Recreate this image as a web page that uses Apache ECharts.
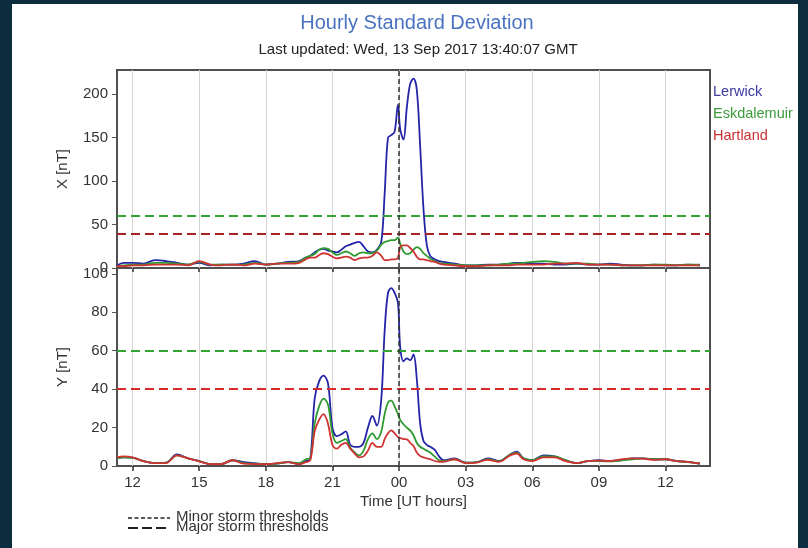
<!DOCTYPE html>
<html>
<head>
<meta charset="utf-8">
<script src="https://cdn.jsdelivr.net/npm/echarts@6/dist/echarts.min.js"></script>
<style>
html,body{margin:0;padding:0;background:#0b2d3e;width:808px;height:548px;overflow:hidden;}
#panel{position:absolute;left:12px;top:4px;width:786px;height:544px;background:#fff;}
#chart{position:absolute;left:0;top:0;width:808px;height:548px;}
</style>
</head>
<body>
<div id="panel"></div>
<div id="chart"></div>
<script>
// time in UT hours from 12 Sep (values >= 24 are 13 Sep)
const times = [11.3,11.6,12.0,12.5,13.0,13.5,14.0,14.5,15.0,15.5,16.0,16.5,17.0,17.5,18.0,18.5,19.0,19.5,19.8,20.0,
  20.2,20.4,20.6,20.8,21.0,21.2,21.4,21.6,21.8,22.0,22.2,22.4,22.6,22.8,23.0,23.2,23.35,23.5,23.65,23.8,
  23.95,24.05,24.2,24.35,24.5,24.65,24.8,24.95,25.1,25.25,25.4,25.6,25.8,26.0,26.5,27.0,27.5,28.0,28.5,29.0,
  29.3,29.6,30.0,30.5,31.0,31.5,32.0,32.5,33.0,33.5,34.0,34.5,35.0,35.5,36.0,36.5,37.0,37.55];

// X component [nT]
const lerwickX = [3,6,6,5,9,8,6,4,6,3,4,4,5,8,4,5,7,8,12,14,
  18,21,22,20,19,18,21,25,27,29,30,25,19,18,21,30,85,150,153,157,
  188,160,148,185,212,218,205,140,68,26,14,10,8,7,5,3,3,4,4,5,
  6,6,5,5,4,4,5,4,4,5,4,3,3,4,3,3,4,3];
const eskdalemuirX = [2,3,4,4,6,6,5,4,7,4,4,4,4,6,4,5,6,7,12,14,
  16,21,23,22,18,15,17,19,17,14,17,18,17,17,20,27,30,31,32,32,
  35,28,19,16,17,21,24,22,17,14,11,8,6,5,4,3,3,3,4,5,
  5,6,7,8,7,5,5,5,4,4,3,3,3,4,4,3,4,4];
const hartlandX = [2,2,3,3,4,4,4,3,8,4,3,4,3,5,4,5,5,6,10,12,
  12,15,17,16,13,11,12,13,12,9,11,12,12,14,18,14,9,9,10,10,
  12,24,26,26,23,19,13,10,10,9,8,7,5,4,3,2,2,3,3,3,
  4,4,4,4,5,5,6,4,4,4,3,3,3,3,3,3,3,3];

// Y component [nT]
const lerwickY = [4,4.5,4.4,2.5,1.5,1.7,6,4,2.6,1,1,3,2,1.5,1,1.2,2,1,2.5,3.5,
  35,44,47,43,20,15.5,16.5,18,11,10,10,12,20,26,21,35,70,90,92.5,90,
  85,62,54.5,56,55,58,45,22,13,11,10,8.5,5,3,4,1.7,2,4,2.6,6,
  7.5,4,3,5.5,5,3,1.5,2.5,3,2.6,3,4,4,3.5,3.5,2.6,2.2,1.3];
const eskdalemuirY = [4,4.5,4.2,2.5,1.5,1.7,5.5,4,2.5,1,1,3,1.5,1.2,1,1.2,2,1.5,3.5,4,
  22,31,35,32,17,12,13,14,9.5,7,5.5,8,14,17,14,18,27,33,34,31,
  27,24,21.7,20,18.5,16,12,10,9,8,7,5,3,2.6,3.5,1.7,2,3.5,2.5,6,
  7,4,3,5,5,3,1.5,2.5,2.5,2.4,3,3.5,4,3.5,3.5,2.5,2,1.2];
const hartlandY = [4.5,5,4.5,2.5,1.5,1.5,5.5,4,2.4,1,1,3,1.2,1,1,1.5,2,1,2,3,
  18,24,27,22,11,9,11,12,9,6.5,4.5,5,8,12,10,10,14,17,18.5,17,
  15,14.5,14,13.9,12,10.4,7,5.2,4.5,4,3.5,2.6,2.2,2.2,3.5,1.5,1.8,3.2,2.2,5.5,
  6.5,3.5,2.5,4.5,4.5,2.5,1.5,2.5,2.8,2.6,3.5,4,3.8,3.2,3.5,2.5,2.2,1.3];

const stations = ['Lerwick','Eskdalemuir','Hartland'];
const stationColors = ['#2424a8','#2f9a2f','#d13232'];
const legendColors = ['#3a3aa0','#3c9c3c','#c83232'];
const timeTicks = [12,15,18,21,24,27,30,33,36];
const xTicksTop = [0,50,100,150,200];
const yTicksBottom = [0,20,40,60,80,100];
const minorThreshold = 60;
const majorThreshold = 40;
const midnight = 24;

const chart = echarts.init(document.getElementById('chart'), null, {renderer:'canvas'});
const FONT = 'Liberation Sans, Arial, sans-serif';
const FS = 15;
const pair = arr => times.map((t,i)=>[t,arr[i]]);
const fmtHour = v => { const h = Math.round(v) % 24; return (h<10?'0':'')+h; };

function xAxisCfg(gridIndex, showLabels){
  return {
    type:'value', gridIndex, min:11.3, max:38.0,
    axisLine:{show:false},
    axisTick:{show:true, customValues:timeTicks, length:showLabels?5:4, lineStyle:{color:'#333', width:1.5}},
    axisLabel:{show:showLabels, customValues:timeTicks, formatter:fmtHour, color:'#333', fontSize:FS, fontFamily:FONT, margin:9},
    splitLine:{show:true, lineStyle:{color:'#d4d4d4', width:1}},
    name: showLabels ? 'Time [UT hours]' : '',
    nameLocation:'middle', nameGap:28,
    nameTextStyle:{color:'#333', fontSize:FS, fontFamily:FONT}
  };
}
function yAxisCfg(gridIndex, max, ticks, name){
  return {
    type:'value', gridIndex, min:0, max,
    axisLine:{show:false},
    axisTick:{show:true, customValues:ticks, length:5, lineStyle:{color:'#555'}},
    axisLabel:{customValues:ticks, color:'#333', fontSize:FS, fontFamily:FONT, margin:9},
    splitLine:{show:false},
    name, nameLocation:'middle', nameGap:47, nameRotate:90,
    nameTextStyle:{color:'#333', fontSize:FS, fontFamily:FONT}
  };
}
function thresholdMarks(majorColor){
  return {
    silent:true, symbol:'none', animation:false,
    label:{show:false},
    data:[
      {yAxis:minorThreshold, lineStyle:{color:'#33a533', type:[9,5], width:2}},
      {yAxis:majorThreshold, lineStyle:{color:majorColor, type:[9,5], width:2}},
      {xAxis:midnight, lineStyle:{color:'#333', type:[5,3], width:1.5}}
    ]
  };
}
const dataSets = [[lerwickX,eskdalemuirX,hartlandX],[lerwickY,eskdalemuirY,hartlandY]];
const series = [];
[0,1].forEach(g=>{
  stations.forEach((name,k)=>{
    const s = {
      name, type:'line', xAxisIndex:g, yAxisIndex:g,
      data: pair(dataSets[g][k]),
      showSymbol:false, smooth:0.35, animation:false,
      lineStyle:{color:stationColors[k], width:1.8},
      itemStyle:{color:stationColors[k]}, z: 2+k
    };
    if(k===0) s.markLine = thresholdMarks(g===0 ? '#a82424' : '#d92a2a');
    series.push(s);
  });
});

chart.setOption({
  animation:false,
  backgroundColor:'transparent',
  title:[
    {text:'Hourly Standard Deviation', left:412, top:8, textAlign:'center',
     textStyle:{color:'#4a72c0', fontSize:20, fontWeight:'normal', fontFamily:FONT}},
    {text:'Last updated: Wed, 13 Sep 2017 13:40:07 GMT', left:413, top:37, textAlign:'center',
     textStyle:{color:'#222', fontSize:15, fontWeight:'normal', fontFamily:FONT}}
  ],
  legend:{
    orient:'vertical', left:703, top:79, icon:'none', itemWidth:0, itemHeight:15, itemGap:7,
    selectedMode:false,
    data: stations.map((n,k)=>({name:n, textStyle:{color:legendColors[k], fontSize:14.5, fontFamily:FONT}}))
  },
  grid:[
    {left:117, right:98, top:70, height:198, show:true, borderColor:'#505050', borderWidth:2, backgroundColor:'transparent'},
    {left:117, right:98, top:268, height:198, show:true, borderColor:'#505050', borderWidth:2, backgroundColor:'transparent'}
  ],
  xAxis:[xAxisCfg(0,false), xAxisCfg(1,true)],
  yAxis:[yAxisCfg(0,228,xTicksTop,'X [nT]'), yAxisCfg(1,103,yTicksBottom,'Y [nT]')],
  series,
  graphic:[
    {type:'line', shape:{x1:128,y1:518,x2:170,y2:518}, style:{stroke:'#222', lineWidth:1.5, lineDash:[4,2.5]}},
    {type:'line', shape:{x1:128,y1:528,x2:170,y2:528}, style:{stroke:'#222', lineWidth:2, lineDash:[10,4]}},
    {type:'text', left:176, top:509, style:{text:'Minor storm thresholds', fill:'#333', font:FS+'px '+FONT}},
    {type:'text', left:176, top:519, style:{text:'Major storm thresholds', fill:'#333', font:FS+'px '+FONT}}
  ]
});
</script>
</body>
</html>
